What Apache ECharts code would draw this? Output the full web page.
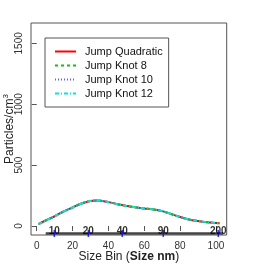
<!DOCTYPE html>
<html><head><meta charset="utf-8">
<script src="https://cdn.jsdelivr.net/npm/echarts@6/dist/echarts.min.js"></script>
<style>html,body{margin:0;padding:0;background:#fff}#c{width:273px;height:273px}</style>
</head><body><div id="c"></div>
<script>
const sizeBin = [1, 5, 10, 15, 20, 25, 30, 34, 38, 42, 46, 50, 55, 60, 65, 70, 75, 80, 85, 90, 95, 102];
const jumpQuadratic = [16, 45, 80, 119, 152, 185, 206, 210, 202, 190, 176, 165, 153, 144, 136, 122, 98, 74, 54, 41, 31, 22];
const jumpKnot8 = jumpQuadratic.slice();
const jumpKnot10 = jumpQuadratic.slice();
const jumpKnot12 = jumpQuadratic.slice();
const xTicks = [0, 20, 40, 60, 80, 100];
const yTicks = [0, 500, 1000, 1500];
const binTickPos = [9.8, 28.8, 47.7, 70.6, 101.3];
const binLabels = ['10', '20', '40', '90', '200'];
const binLineX = [5, 104];
const binLineY = -62;

const font = 'Liberation Sans, Arial, sans-serif';
const pairs = arr => sizeBin.map((x, i) => [x, arr[i]]);
const mk = (name, data, color, type, w) => ({
  name, type: 'line', data: pairs(data), smooth: 0.4, symbol: 'none', showSymbol: false,
  lineStyle: { color, type, width: w }, itemStyle: { color }, z: 3
});
const chart = echarts.init(document.getElementById('c'), null, { renderer: 'canvas' });
chart.setOption({
  animation: false,
  textStyle: { fontFamily: font },
  grid: { left: 31, top: 23, right: 46.3, bottom: 38, show: true, borderColor: '#555', borderWidth: 1, backgroundColor: 'transparent', outerBoundsMode: 'none', containLabel: false },
  xAxis: {
    type: 'value', min: -3.2, max: 106,
    axisLine: { show: false }, splitLine: { show: false },
    axisTick: { show: true, customValues: xTicks, length: 5, lineStyle: { color: '#555' } },
    axisLabel: { customValues: xTicks, fontSize: 10, color: '#333', margin: 6, fontFamily: font },
    name: 'Size Bin ({b|Size nm})', nameLocation: 'middle', nameGap: 16, nameMoveOverlap: false,
    nameTextStyle: { fontSize: 12, color: '#222', fontFamily: font, rich: { b: { fontWeight: 'bold', fontSize: 12, color: '#222', fontFamily: font } } }
  },
  yAxis: {
    type: 'value', min: -74, max: 1667,
    axisLine: { show: false }, splitLine: { show: false },
    axisTick: { show: true, customValues: yTicks, length: 5, lineStyle: { color: '#555' } },
    axisLabel: { customValues: yTicks, rotate: 90, fontSize: 10, color: '#333', margin: 7, fontFamily: font, formatter: v => String(v) },
    name: 'Particles/cm{s|3}', nameLocation: 'middle', nameGap: 13, nameRotate: 90, nameMoveOverlap: false,
    nameTextStyle: { fontSize: 12, color: '#222', fontFamily: font, rich: { s: { fontSize: 8, verticalAlign: 'top', padding: [0, 0, 8, 0], color: '#222', fontFamily: font } } }
  },
  legend: {
    left: 45, top: 38, orient: 'vertical', itemWidth: 21, itemHeight: 10, itemGap: 3,
    padding: [8, 6, 8, 9], borderColor: '#555', borderWidth: 1, backgroundColor: '#fff',
    itemStyle: { opacity: 0 },
    textStyle: { fontSize: 11, color: '#111', fontFamily: font, padding: [0, 0, 0, 4] },
    data: ['Jump Quadratic', 'Jump Knot 8', 'Jump Knot 10', 'Jump Knot 12']
  },
  series: [
    mk('Jump Quadratic', jumpQuadratic, '#ff0000', 'solid', 2),
    mk('Jump Knot 8', jumpKnot8, '#00cc00', [3, 3], 2),
    mk('Jump Knot 10', jumpKnot10, '#6060ff', [1, 2], 2),
    mk('Jump Knot 12', jumpKnot12, '#00e5e5', [4, 2, 1, 2], 2),
    { type: 'line', data: binLineX.map(x => [x, binLineY]), symbol: 'none', lineStyle: { color: '#444', width: 2.5 }, z: 4, silent: true },
    { type: 'scatter', data: binTickPos.map((x, i) => ({ value: [x, binLineY], name: binLabels[i] })),
      symbol: 'rect', symbolSize: [1.5, 7], itemStyle: { color: '#0000ff' }, z: 5, silent: true,
      label: { show: true, position: 'inside', formatter: p => p.name, fontSize: 10, fontWeight: 'bold', color: '#000', fontFamily: font, offset: [0, -2] } }
  ]
});
</script></body></html>
